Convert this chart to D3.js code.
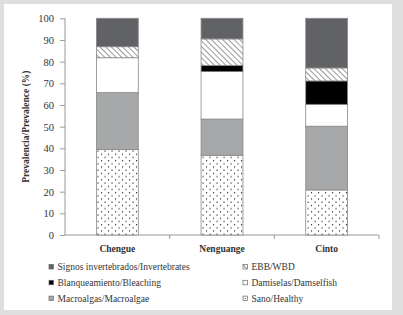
<!DOCTYPE html>
<html>
<head>
<meta charset="utf-8">
<script src="https://cdn.jsdelivr.net/npm/d3@7"></script>
<style>
  body { margin: 0; background: #dedede; }
  svg { display: block; }
  text { font-family: "Liberation Serif", "Times New Roman", serif; fill: #333; }
</style>
</head>
<body>
<div id="chart"></div>
<script>
// categories and series (percent, bottom to top)
const sites = ["Chengue", "Nenguange", "Cinto"];
const healthy = [39.4, 36.8, 20.8];
const macroalgae = [26.3, 16.7, 29.4];
const damselfish = [16.1, 21.9, 10.1];
const bleaching = [0, 2.9, 10.8];
const ebb = [5.1, 12.2, 6.0];
const invertebrates = [13.1, 9.5, 22.9];
const yTicks = [0, 10, 20, 30, 40, 50, 60, 70, 80, 90, 100];

const seriesNames = ["Sano/Healthy", "Macroalgas/Macroalgae", "Damiselas/Damselfish",
    "Blanqueamiento/Bleaching", "EBB/WBD", "Signos invertebrados/Invertebrates"];
const seriesKeys = ["healthy", "macro", "damsel", "bleach", "ebb", "inv"];
const seriesValues = [healthy, macroalgae, damselfish, bleaching, ebb, invertebrates];
const fills = ["url(#dots)", "#a6a8aa", "#ffffff", "#000000", "url(#hatch)", "#606265"];

const W = 403, H = 315;
const margin = { top: 18.3, right: 24, bottom: 80, left: 65 };
const width = 379 - margin.left;
const height = 235 - margin.top;

const svg = d3.select("#chart").append("svg")
    .attr("width", W)
    .attr("height", H);

// white panel
svg.append("rect")
    .attr("x", 4).attr("y", 4)
    .attr("width", 388).attr("height", 306)
    .attr("fill", "#fff");

const defs = svg.append("defs");
const dots = defs.append("pattern")
    .attr("id", "dots")
    .attr("patternUnits", "userSpaceOnUse")
    .attr("width", 7).attr("height", 6.4);
dots.append("rect").attr("width", 7).attr("height", 6.4).attr("fill", "#fff");
dots.append("rect").attr("x", 1).attr("y", 1).attr("width", 1.1).attr("height", 1.1).attr("fill", "#111");
dots.append("rect").attr("x", 4.5).attr("y", 4.2).attr("width", 1.1).attr("height", 1.1).attr("fill", "#111");

const hatch = defs.append("pattern")
    .attr("id", "hatch")
    .attr("patternUnits", "userSpaceOnUse")
    .attr("width", 4).attr("height", 4)
    .attr("patternTransform", "rotate(-45)");
hatch.append("rect").attr("width", 4).attr("height", 4).attr("fill", "#fff");
hatch.append("line")
    .attr("x1", 0).attr("y1", 0).attr("x2", 0).attr("y2", 4)
    .attr("stroke", "#555").attr("stroke-width", 1.2);

const g = svg.append("g")
    .attr("transform", `translate(${margin.left},${margin.top})`);

// build table for the stack
const table = sites.map((s, i) => {
    const row = { site: s };
    seriesKeys.forEach((k, j) => row[k] = seriesValues[j][i]);
    return row;
});
const stacked = d3.stack().keys(seriesKeys)(table);

const x = d3.scaleBand().domain(sites).range([0, width]).padding(0);
const y = d3.scaleLinear().domain([0, 100]).range([height, 0]);
const barW = x.bandwidth() * 0.4;

// y axis
const yAxis = g.append("g")
    .call(d3.axisLeft(y).tickValues(yTicks).tickSize(5).tickPadding(6));
yAxis.select(".domain").attr("stroke", "#999").attr("d", `M0,0V${height}`);
yAxis.selectAll(".tick line").attr("stroke", "#999");
yAxis.selectAll(".tick text")
    .style("font-size", "10.5px")
    .attr("fill", "#333");

// x axis with ticks at category boundaries
const xAxisG = g.append("g").attr("transform", `translate(0,${height})`);
xAxisG.append("line").attr("x1", 0).attr("x2", width).attr("stroke", "#999");
xAxisG.selectAll(".bt")
    .data(sites)
    .enter().append("line")
    .attr("x1", d => x(d) + x.bandwidth()).attr("x2", d => x(d) + x.bandwidth())
    .attr("y1", 0).attr("y2", 4)
    .attr("stroke", "#999");
xAxisG.selectAll(".lbl")
    .data(sites)
    .enter().append("text")
    .attr("x", d => x(d) + x.bandwidth() / 2)
    .attr("y", 16.5)
    .attr("text-anchor", "middle")
    .style("font-size", "9.5px")
    .style("font-weight", "bold")
    .attr("fill", "#222")
    .text(d => d);

// bars
const layers = g.selectAll(".layer")
    .data(stacked)
    .enter().append("g")
    .attr("class", "layer")
    .attr("fill", (d, i) => fills[i]);

layers.selectAll("rect")
    .data(d => d.filter(p => p[1] - p[0] > 0))
    .enter().append("rect")
    .attr("x", d => x(d.data.site) + (x.bandwidth() - barW) / 2)
    .attr("y", d => y(d[1]))
    .attr("width", barW)
    .attr("height", d => y(d[0]) - y(d[1]))
    .attr("stroke", "#888")
    .attr("stroke-width", 0.8);

// y axis title
svg.append("text")
    .attr("transform", "rotate(-90)")
    .attr("x", -(margin.top + height / 2))
    .attr("y", 29)
    .attr("text-anchor", "middle")
    .style("font-size", "9.5px")
    .style("font-weight", "bold")
    .attr("fill", "#222")
    .text("Prevalencia/Prevalence (%)");

// legend (two columns, three rows) - order as in the figure
const legendOrder = [5, 4, 3, 2, 1, 0];
const legend = svg.append("g");
legendOrder.forEach((si, k) => {
    const col = k % 2, row = Math.floor(k / 2);
    const lx = col === 0 ? 49 : 243;
    const ly = 267 + row * 15.8;
    legend.append("rect")
        .attr("x", lx).attr("y", ly - 2.5)
        .attr("width", 4.5).attr("height", 4.5)
        .attr("fill", si === 0 ? "#fff" : fills[si])
        .attr("stroke", "#666").attr("stroke-width", 0.7);
    if (si === 0) {
        legend.append("rect")
            .attr("x", lx + 1.8).attr("y", ly - 0.7)
            .attr("width", 1).attr("height", 1).attr("fill", "#222");
    }
    legend.append("text")
        .attr("x", lx + 8.5)
        .attr("y", ly + 3.3)
        .style("font-size", "9.5px")
        .text(seriesNames[si]);
});
</script>
</body>
</html>
